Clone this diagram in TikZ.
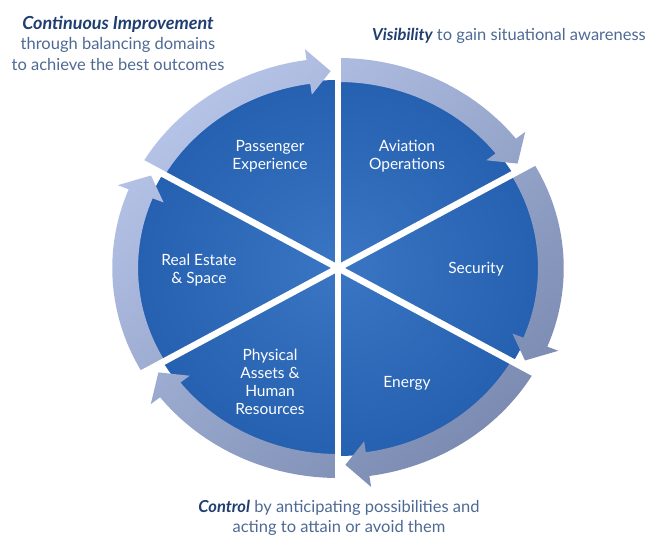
\documentclass[tikz,border=0pt]{standalone}
\usepackage{fontspec}
\setmainfont{Lato}
\definecolor{piecenter}{RGB}{58,118,196}
\definecolor{pieedge}{RGB}{38,96,176}
\definecolor{bandlight}{RGB}{182,196,232}
\definecolor{banddark}{RGB}{122,138,176}
\definecolor{headnavy}{RGB}{32,62,112}
\definecolor{bodyblue}{RGB}{78,106,148}
\tikzset{
  sectorlabel/.style={text=white, align=center, font=\fontsize{15.5}{18}\selectfont},
  caption/.style={text=bodyblue, align=center, font=\fontsize{16.5}{20.5}\selectfont},
  separator/.style={white, line width=6.5pt},
}
\begin{document}
\begin{tikzpicture}[x=1pt,y=1pt]
\useasboundingbox (0,0) rectangle (650,537);

% the wheel: blue disc, six arrow segments, white spokes
\begin{scope}[shift={(338,269)}, xscale=1.075]
  \coordinate (hub) at (0,0);
  \shade[inner color=piecenter, outer color=pieedge] (hub) circle[radius=188];
  \shade[top color=bandlight, bottom color=banddark, shading angle=40]
    \foreach \a in {30,-30,-90,-150,150,90} {
      ({\a+60}:210) arc[start angle=\a+60, end angle=\a+8, radius=210]
      -- ({\a+8}:221) -- ({\a+2}:197) -- ({\a+8}:175) -- ({\a+8}:186)
      arc[start angle=\a+8, end angle=\a+60, radius=186] -- cycle
    };
  \foreach \a in {30,90,150} {
    \draw[separator] (hub) -- ({\a}:228);
    \draw[separator] (hub) -- ({\a+180}:228);
  }
  \fill[white] (hub) circle[radius=5];
\end{scope}

% domain labels
\node[sectorlabel] (passenger) at (270,381) {Passenger\\Experience};
\node[sectorlabel] (aviation)  at (407,381) {Aviation\\Operations};
\node[sectorlabel] (security)  at (476,268) {Security};
\node[sectorlabel] (energy)    at (407,154) {Energy};
\node[sectorlabel] (assets)    at (270,155) {Physical\\Assets \&\\Human\\Resources};
\node[sectorlabel] (realestate) at (199,267) {Real Estate\\\& Space};

% captions
\node[caption] (improve) at (118,494) {{\color{headnavy}\bfseries\itshape\fontsize{18}{20}\selectfont Continuous Improvement}\\[0pt]through balancing domains\\to achieve the best outcomes};
\node[caption] (visibility) at (509,501) {{\color{headnavy}\bfseries\itshape Visibility} to gain situational awareness};
\node[caption] (control) at (339,19) {{\color{headnavy}\bfseries\itshape Control} by anticipating possibilities and\\acting to attain or avoid them};
\end{tikzpicture}
\end{document}
